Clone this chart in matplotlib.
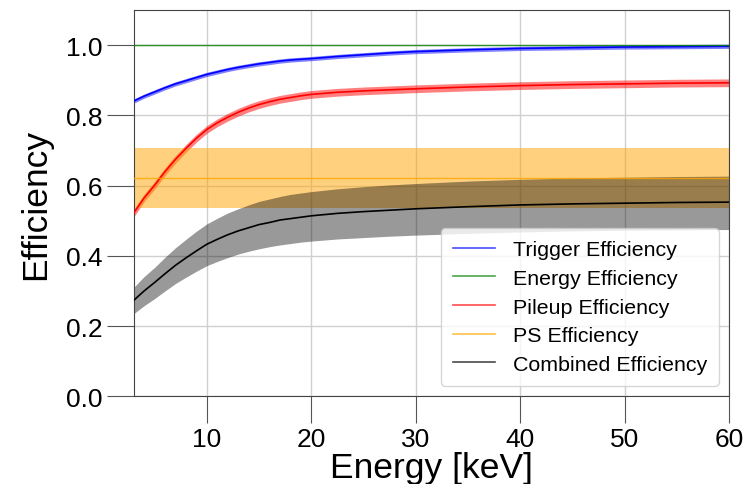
import matplotlib

matplotlib.use("Agg")
import matplotlib.pyplot as plt
import numpy as np

plt.rcParams["font.family"] = ["Liberation Sans", "DejaVu Sans"]

# Energy grid [keV] and efficiencies
energy = [3, 4, 5, 6, 7, 8, 9, 10, 11, 12, 13, 14, 15, 16, 17, 18, 19, 20,
          22.5, 25, 27.5, 30, 35, 40, 45, 50, 55, 60]

trigger = [0.841, 0.855, 0.867, 0.879, 0.890, 0.899, 0.908, 0.917, 0.924, 0.931,
           0.937, 0.942, 0.947, 0.951, 0.955, 0.958, 0.960, 0.962,
           0.968, 0.973, 0.978, 0.982, 0.987, 0.991, 0.993, 0.995, 0.996, 0.997]
trigger_err = 0.006

energy_eff = [1.0] * len(energy)

pileup = [0.522, 0.565, 0.601, 0.640, 0.675, 0.706, 0.735, 0.760, 0.779, 0.795,
          0.809, 0.821, 0.831, 0.839, 0.846, 0.851, 0.856, 0.860,
          0.866, 0.870, 0.873, 0.876, 0.881, 0.885, 0.888, 0.890, 0.892, 0.893]
pileup_err = 0.011

ps = [0.621] * len(energy)
ps_lo, ps_hi = 0.535, 0.707

combined = [0.273, 0.300, 0.324, 0.349, 0.373, 0.394, 0.414, 0.433, 0.447, 0.460,
            0.471, 0.480, 0.489, 0.495, 0.502, 0.506, 0.510, 0.514,
            0.521, 0.526, 0.530, 0.534, 0.540, 0.545, 0.548, 0.550, 0.552, 0.553]
combined_lo = [0.235, 0.258, 0.278, 0.300, 0.321, 0.339, 0.356, 0.372, 0.384, 0.395,
               0.405, 0.413, 0.420, 0.426, 0.431, 0.435, 0.439, 0.442,
               0.448, 0.452, 0.456, 0.459, 0.464, 0.468, 0.471, 0.473, 0.474, 0.475]
combined_hi = [0.310, 0.341, 0.367, 0.396, 0.423, 0.447, 0.470, 0.491, 0.507, 0.522,
               0.534, 0.545, 0.555, 0.562, 0.569, 0.575, 0.579, 0.583,
               0.591, 0.597, 0.602, 0.606, 0.613, 0.618, 0.622, 0.624, 0.626, 0.627]

E = np.array(energy)

fig = plt.figure(figsize=(7.51, 4.85), dpi=100)
ax = fig.add_axes([0.178, 0.181, 0.793, 0.796])

ax.grid(True, color="#d0d0d0", linewidth=1.0, zorder=0)

tr = np.array(trigger)
ax.fill_between(E, tr - trigger_err, tr + trigger_err, color="blue", alpha=0.5, lw=0, zorder=2)
ax.plot(E, tr, color="blue", lw=1.2, label="Trigger Efficiency", zorder=3)

ax.plot(E, energy_eff, color="green", lw=1.0, alpha=0.8, label="Energy Efficiency", zorder=3)

pu = np.array(pileup)
ax.fill_between(E, pu - pileup_err, pu + pileup_err, color="red", alpha=0.5, lw=0, zorder=2)
ax.plot(E, pu, color="red", lw=1.2, label="Pileup Efficiency", zorder=3)

ax.fill_between(E, ps_lo, ps_hi, color="orange", alpha=0.5, lw=0, zorder=2)
ax.plot(E, ps, color="orange", lw=1.0, alpha=0.8, label="PS Efficiency", zorder=3)

ax.fill_between(E, combined_lo, combined_hi, color="black", alpha=0.4, lw=0, zorder=2)
ax.plot(E, combined, color="black", lw=1.2, label="Combined Efficiency", zorder=3)

ax.set_xlim(3, 60)
ax.set_ylim(0, 1.1)
ax.set_xticks([10, 20, 30, 40, 50, 60])
ax.set_yticks([0.0, 0.2, 0.4, 0.6, 0.8, 1.0])
ax.tick_params(labelsize=19, length=19.5, width=0.8, color="#555555", pad=3)
for spine in ax.spines.values():
    spine.set_color("#444444")

ax.set_xlabel("Energy [keV]", fontsize=25.5, labelpad=0)
ax.set_ylabel("Efficiency", fontsize=25.5, labelpad=10)

leg = ax.legend(loc="lower right", fontsize=15.4, framealpha=0.8, handlelength=2.0,
                borderpad=0.55, labelspacing=0.45)
for line in leg.get_lines():
    line.set_alpha(0.7)
    line.set_linewidth(1.2)

fig.savefig("out.png", dpi=100)
